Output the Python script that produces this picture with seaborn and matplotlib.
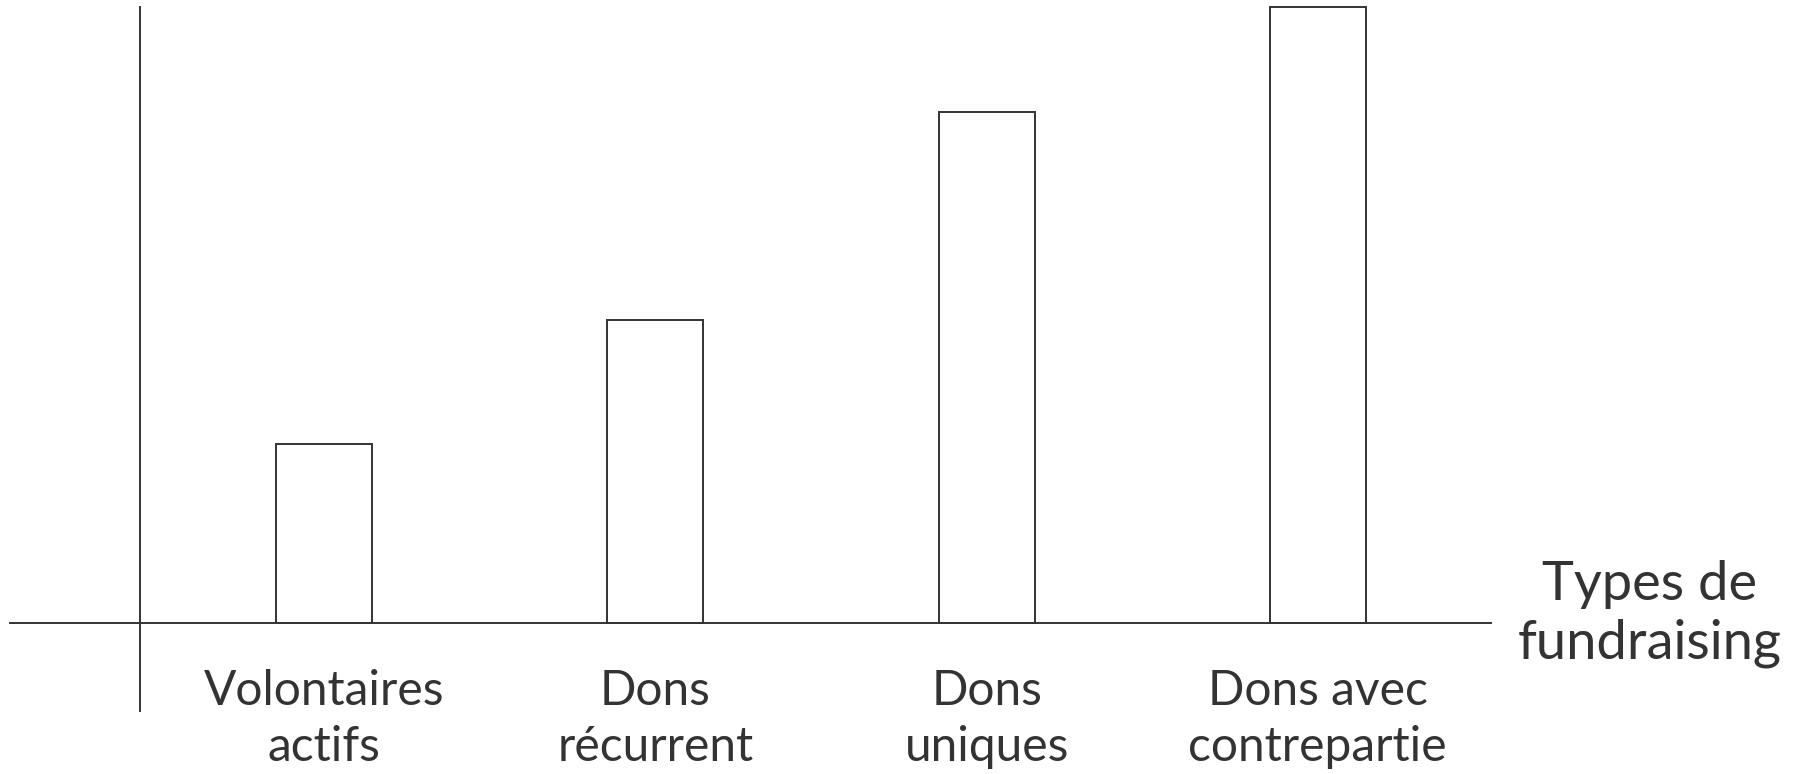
import matplotlib
matplotlib.use("Agg")
import matplotlib.pyplot as plt
import seaborn as sns
import pandas as pd

# Stile pulito, senza griglia
sns.set_theme(style="white")
plt.rcParams['font.family'] = ['Lato', 'DejaVu Sans']

# Dati (scala arbitraria, barra più alta = 100)
categorie = ["Volontaires\nactifs", "Dons\nrécurrent", "Dons\nuniques", "Dons avec\ncontrepartie"]
valori = [29.2, 49.2, 83.0, 100.0]
titolo_asse_x = "Types de\nfundraising"

COLOR_LINEA = '#333333'

df = pd.DataFrame({"tipo": categorie, "valore": valori})

fig = plt.figure(figsize=(18, 7.74), dpi=100)
ax = fig.add_axes([10 / 1800, (774 - 711) / 774, (1491 - 10) / 1800, (711 - 7.3) / 774])

sns.barplot(data=df, x="tipo", y="valore", color="white", edgecolor=COLOR_LINEA,
            linewidth=1.4, width=0.29, saturation=1, errorbar=None, ax=ax)
for barra in ax.patches:
    barra.set_clip_on(False)

ax.set_xlim(-0.949, 3.523)
ax.set_ylim(-14.2, 100)

# Assi incrociati come nel disegno originale
ax.spines['top'].set_visible(False)
ax.spines['right'].set_visible(False)
ax.spines['left'].set_position(('data', -0.556))
ax.spines['bottom'].set_position(('data', 0))
for lato in ['left', 'bottom']:
    ax.spines[lato].set_color(COLOR_LINEA)
    ax.spines[lato].set_linewidth(1.4)

ax.set_yticks([])
ax.set_ylabel("")
ax.tick_params(axis='x', length=0, pad=33, labelsize=34.5, labelcolor=COLOR_LINEA)
for etichetta in ax.get_xticklabels():
    etichetta.set_linespacing(1.33)

ax.set_xlabel(titolo_asse_x, fontsize=39, color=COLOR_LINEA, linespacing=1.23)
ax.xaxis.set_label_coords(1.107, 0.138)
ax.xaxis.label.set_va('center')

fig.savefig("out.png", dpi=100)
